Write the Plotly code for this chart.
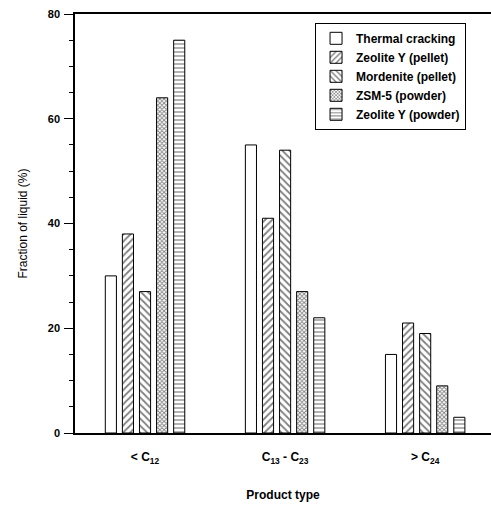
import plotly.graph_objects as go

categories = ["< C<sub>12</sub>", "C<sub>13</sub> - C<sub>23</sub>", "> C<sub>24</sub>"]
series_names = ["Thermal cracking", "Zeolite Y (pellet)", "Mordenite (pellet)",
                "ZSM-5 (powder)", "Zeolite Y (powder)"]
thermal = [30, 55, 15]
zeolite_y_pellet = [38, 41, 21]
mordenite_pellet = [27, 54, 19]
zsm5_powder = [64, 27, 9]
zeolite_y_powder = [75, 22, 3]
y_ticks = [0, 20, 40, 60, 80]

values = [thermal, zeolite_y_pellet, mordenite_pellet, zsm5_powder, zeolite_y_powder]
patterns = ["", "/", "\\", "x", "-"]
sizes = [6, 5, 5, 3, 4]
solids = [0.3, 0.35, 0.35, 0.5, 0.3]

fig = go.Figure()
for name, vals, pat, sz, so in zip(series_names, values, patterns, sizes, solids):
    fig.add_trace(go.Bar(
        x=categories, y=vals, name=f"<b>{name}</b>",
        marker=dict(color="white", line=dict(color="black", width=1),
                    pattern=dict(shape=pat, fgcolor="black", bgcolor="white",
                                 size=sz, solidity=so)),
    ))

font = dict(family="Liberation Sans, Arial, sans-serif", color="black")
fig.update_layout(
    width=491, height=506,
    margin=dict(l=75, r=0, t=14, b=73),
    paper_bgcolor="white", plot_bgcolor="white",
    barmode="group", bargap=0.39, bargroupgap=0.35,
    font=dict(size=11, **font),
    showlegend=True,
    legend=dict(x=0.577, y=0.979, xanchor="left", yanchor="top",
                bordercolor="black", borderwidth=1, bgcolor="white",
                font=dict(size=12, **font), tracegroupgap=0,
                itemwidth=30),
    xaxis=dict(range=[-0.5, 2.47], showline=True, linecolor="black", linewidth=1.5,
               mirror=True, ticks="", showgrid=False,
               ticktext=[f"<b>{c}</b>" for c in categories], tickvals=categories,
               ticklabelstandoff=12,
               title=dict(text="<b>Product type</b>", font=dict(size=12, **font), standoff=26),
               tickfont=dict(size=12, **font)),
    yaxis=dict(range=[0, 80], tickvals=y_ticks, ticktext=[f"<b>{v}</b>" for v in y_ticks],
               showline=True, linecolor="black",
               linewidth=1.5, ticks="outside", ticklen=9, tickwidth=1, tickcolor="black",
               minor=dict(dtick=5, ticks="outside", ticklen=4, tickcolor="black", showgrid=False),
               showgrid=False, zeroline=False,
               title=dict(text="Fraction of liquid (%)", font=dict(size=12, **font), standoff=18),
               tickfont=dict(size=11, **font), ticklabelstandoff=2),
)

fig.write_html("out.html", config={"displayModeBar": False},
               post_script="document.body.style.margin='0';document.body.style.overflow='hidden';")
